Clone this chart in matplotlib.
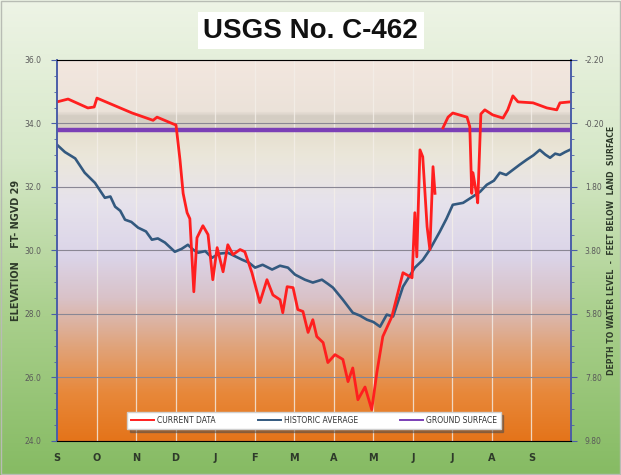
import matplotlib
matplotlib.use("Agg")
import matplotlib.pyplot as plt
import numpy as np
from matplotlib.colors import LinearSegmentedColormap

# month positions (0 = start of Sept) and elevations, ft NGVD 29
current_month = [0.00, 0.28, 0.78, 0.94, 1.01, 1.90, 2.43, 2.53, 2.93, 3.01,
                 3.11, 3.19, 3.29, 3.36, 3.46, 3.54, 3.69, 3.82, 3.94, 4.05,
                 4.20, 4.32, 4.45, 4.63, 4.75, 4.93, 5.13, 5.31, 5.46, 5.64,
                 5.71, 5.82, 5.97, 6.09, 6.22, 6.35, 6.47, 6.57, 6.73, 6.85,
                 7.03, 7.23, 7.36, 7.48, 7.61, 7.79, 7.96, 8.09, 8.24, 8.47,
                 8.75, 8.98, 9.05, 9.10, 9.18, 9.25, 9.36, 9.43, 9.51, 9.56,
                 9.60,
                 9.76, 9.89, 10.01, 10.37, 10.44, 10.49, 10.52, 10.62, 10.64, 10.72,
                 10.82, 11.02, 11.28, 11.40, 11.53, 11.66, 12.04, 12.39, 12.64, 12.72,
                 12.97]
current_elev = [34.68, 34.77, 34.49, 34.52, 34.80, 34.33, 34.10, 34.20, 33.99, 33.95,
                32.86, 31.80, 31.19, 31.00, 28.70, 30.40, 30.78, 30.50, 29.08, 30.09,
                29.33, 30.18, 29.87, 30.03, 29.96, 29.30, 28.36, 29.08, 28.60, 28.45,
                28.04, 28.86, 28.83, 28.14, 28.08, 27.42, 27.82, 27.29, 27.10, 26.47,
                26.72, 26.57, 25.87, 26.30, 25.30, 25.70, 24.99, 26.16, 27.29, 27.92,
                29.30, 29.14, 31.19, 29.80, 33.17, 32.95, 30.75, 30.03, 32.64, 31.80,
                np.nan,
                33.86, 34.20, 34.33, 34.20, 33.90, 31.80, 32.45, 31.70, 31.50, 34.30,
                34.43, 34.27, 34.17, 34.43, 34.87, 34.68, 34.65, 34.49, 34.43, 34.65,
                34.68]

historic_month = [0.00, 0.20, 0.46, 0.70, 0.96, 1.21, 1.35, 1.47, 1.60, 1.72,
                  1.88, 2.05, 2.25, 2.40, 2.55, 2.73, 2.98, 3.15, 3.31, 3.45,
                  3.57, 3.75, 3.92, 4.10, 4.32, 4.50, 4.68, 4.85, 5.01, 5.20,
                  5.44, 5.64, 5.84, 6.02, 6.27, 6.47, 6.70, 6.85, 6.98, 7.23,
                  7.48, 7.66, 7.84, 8.00, 8.17, 8.34, 8.50, 8.75, 9.05, 9.25,
                  9.43, 9.68, 9.85, 10.01, 10.27, 10.52, 10.70, 10.87, 11.05, 11.20,
                  11.36, 11.53, 11.70, 11.88, 12.05, 12.21, 12.35, 12.47, 12.60, 12.72,
                  12.85, 12.97]
historic_elev = [33.33, 33.10, 32.90, 32.45, 32.13, 31.66, 31.70, 31.38, 31.25, 30.97,
                 30.90, 30.72, 30.60, 30.34, 30.38, 30.25, 29.96, 30.05, 30.18, 30.02,
                 29.93, 29.98, 29.77, 29.90, 29.93, 29.82, 29.71, 29.62, 29.46, 29.55,
                 29.40, 29.52, 29.46, 29.24, 29.08, 28.99, 29.08, 28.95, 28.83, 28.45,
                 28.04, 27.95, 27.82, 27.75, 27.60, 27.98, 27.92, 28.86, 29.46, 29.70,
                 30.03, 30.59, 31.00, 31.44, 31.50, 31.70, 31.85, 32.07, 32.20, 32.45,
                 32.38, 32.54, 32.70, 32.86, 33.00, 33.17, 33.02, 32.92, 33.05, 33.01,
                 33.10, 33.17]

ground_surface = 33.8
month_labels = ["S", "O", "N", "D", "J", "F", "M", "A", "M", "J", "J", "A", "S"]

fig = plt.figure(figsize=(6.21, 4.75), dpi=100)

# figure background: pale green at top to grass green at bottom
bg = fig.add_axes([0, 0, 1, 1], zorder=-10)
bg_cmap = LinearSegmentedColormap.from_list("bg", ["#86bb63", "#a9cf8c", "#d6e8c8", "#eef4e6"])
bg.imshow(np.linspace(0, 1, 256).reshape(-1, 1), aspect="auto", cmap=bg_cmap,
          origin="lower", extent=[0, 1, 0, 1])
bg.set_axis_off()
fig.patches.append(plt.Rectangle((0.002, 0.003), 0.996, 0.994, transform=fig.transFigure,
                                 fill=False, edgecolor="#b8bcb4", linewidth=1.0))

ax = fig.add_axes([0.0918, 0.0716, 0.8277, 0.8021])
ax.set_xlim(0, 13)
ax.set_ylim(24, 36)

# plot background gradient keyed to elevation
stops = [(24.0, "#e4741a"), (25.5, "#e8883a"), (27.0, "#e0a47c"), (28.5, "#d9c2c8"),
         (29.8, "#dbd4e8"), (31.5, "#e6e2ec"), (33.0, "#ebe7da"), (33.75, "#e6dfcf"),
         (33.9, "#d8d1c6"), (34.25, "#d4cdc3"), (34.4, "#ebe2d9"), (36.0, "#f3e7df")]
cmap = LinearSegmentedColormap.from_list(
    "plotbg", [((v - 24) / 12, c) for v, c in stops])
ax.imshow(np.linspace(0, 1, 512).reshape(-1, 1), aspect="auto", cmap=cmap,
          origin="lower", extent=[0, 13, 24, 36], zorder=0)

for m in range(1, 13):
    ax.axvline(m, color="#f4efe9", linewidth=0.9, alpha=0.8, zorder=1)
for y in range(26, 36, 2):
    ax.axhline(y, color="#8a8794", linewidth=0.8, zorder=1)

ax.axhline(ground_surface, color="#7b3fb6", linewidth=3.2, zorder=3, label="Ground Surface")
ax.plot(historic_month, historic_elev, color="#33597f", linewidth=1.9, zorder=4,
        label="Historic Average")
ax.plot(current_month, current_elev, color="#ff1f1f", linewidth=2.0, zorder=5,
        label="Current data")

ax.set_xticks(np.arange(13))
ax.set_xticklabels(month_labels, fontsize=7, fontweight="bold", color="#2e3a2a")
ax.tick_params(axis="x", length=0, pad=9)
ax.set_yticks(np.arange(24, 37, 2))
ax.set_yticks(np.arange(24, 36.01, 0.5), minor=True)
ax.set_yticklabels([f"{v:.1f}" for v in range(24, 37, 2)], fontsize=5.5, color="#5a5a5a")
ax.tick_params(axis="y", which="major", length=4, color="#4a5ea8", pad=7)
ax.tick_params(axis="y", which="minor", length=2, color="#4a5ea8")
for side in ["left", "right"]:
    ax.spines[side].set_color("#4a5ea8")
    ax.spines[side].set_linewidth(1.2)
for side in ["top", "bottom"]:
    ax.spines[side].set_color("#8a8aa8")
    ax.spines[side].set_linewidth(0.8)

ax2 = ax.twinx()
ax2.set_ylim(ground_surface - 24, ground_surface - 36)
depth_ticks = [ground_surface - v for v in range(24, 37, 2)]
ax2.set_yticks(depth_ticks)
ax2.set_yticks([ground_surface - v for v in np.arange(24, 36.01, 0.5)], minor=True)
ax2.set_yticklabels([f"{d:.2f}" for d in depth_ticks], fontsize=5.5, color="#5a5a5a")
ax2.tick_params(axis="y", which="major", length=4, color="#4a5ea8", pad=6)
ax2.tick_params(axis="y", which="minor", length=2, color="#4a5ea8")
for side in ["left", "right"]:
    ax2.spines[side].set_color("#4a5ea8")
    ax2.spines[side].set_linewidth(1.2)

ax.set_ylabel("ELEVATION    FT- NGVD 29", fontsize=7, fontweight="bold", color="#2e3a2a",
              labelpad=3)
ax2.set_ylabel("DEPTH TO WATER LEVEL  -  FEET BELOW  LAND  SURFACE", fontsize=5.6,
               fontweight="bold", color="#2e3a2a", rotation=90, labelpad=2)

handles, labels = ax.get_legend_handles_labels()
order = [2, 1, 0]
labels_caps = ["CURRENT DATA", "HISTORIC AVERAGE", "GROUND SURFACE"]
leg = ax.legend([handles[i] for i in order], labels_caps, loc="lower center",
                bbox_to_anchor=(0.5, 0.022), ncol=3, fontsize=5.5, frameon=True,
                fancybox=False, shadow=True, handlelength=3.0, columnspacing=5.5,
                borderpad=0.5, handletextpad=0.4, borderaxespad=0.5)
leg.get_frame().set_edgecolor("#d0d0d0")
for txt in leg.get_texts():
    txt.set_color("#333333")
for line in leg.get_lines():
    line.set_linewidth(1.4)

fig.text(0.5005, 0.935, "USGS No. C-462", ha="center", va="center", fontsize=20,
         fontweight="bold", family="Liberation Sans", color="#111111",
         bbox=dict(boxstyle="square,pad=0.2", facecolor="white", edgecolor="none"))

fig.savefig("out.png", dpi=100)
